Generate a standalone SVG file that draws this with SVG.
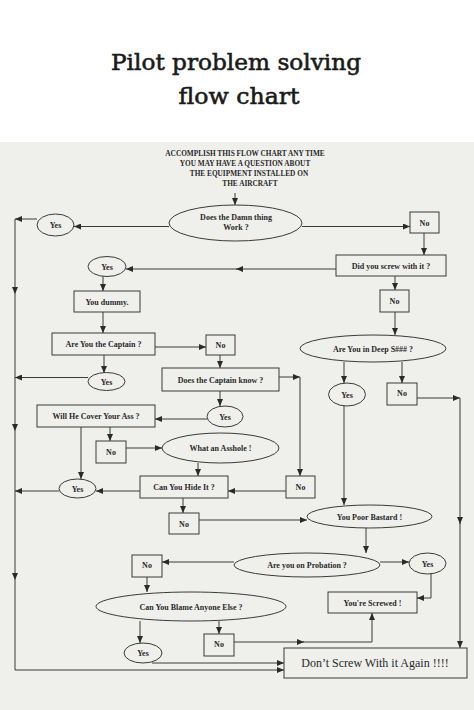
<svg xmlns="http://www.w3.org/2000/svg" width="474" height="710" viewBox="0 0 474 710">
<defs>
<marker id="a" markerWidth="8" markerHeight="6" refX="7" refY="3" orient="auto" markerUnits="userSpaceOnUse"><path d="M0,0 L7,3 L0,6 z" fill="#2a2a2a"/></marker>
<style>
.n rect,.n ellipse{fill:#efefec;stroke:#3a3a3a;stroke-width:1}
.n text,.h{font-family:"Liberation Serif","Times New Roman",serif;font-weight:bold;font-size:8px;fill:#2a2a2a;text-anchor:middle}
.h{font-size:7.3px}
.c path{fill:none;stroke:#3a3a3a;stroke-width:1;marker-end:url(#a)}
.title{font-family:"DejaVu Serif",serif;font-size:23px;fill:#1a1a1a;stroke:#1a1a1a;stroke-width:0.6;text-anchor:middle}
</style>
</defs>
<rect width="474" height="710" fill="#ffffff"/>
<rect x="0" y="142" width="474" height="568" fill="#efefec"/>
<text class="title" x="236" y="70" textLength="250" lengthAdjust="spacingAndGlyphs">Pilot problem solving</text>
<text class="title" x="239" y="104" textLength="121" lengthAdjust="spacingAndGlyphs">flow chart</text>

<g id="header">
<text class="h" x="245" y="156">ACCOMPLISH THIS FLOW CHART ANY TIME</text>
<text class="h" x="245" y="166">YOU MAY HAVE A QUESTION ABOUT</text>
<text class="h" x="249" y="176">THE EQUIPMENT INSTALLED ON</text>
<text class="h" x="250" y="186">THE AIRCRAFT</text>
</g>

<g class="c" id="connectors">
<path d="M235,193 V205"/>
<path d="M169,226.5 H74"/>
<path d="M37,219 H15"/>
<path d="M15,219 V294"/>
<path d="M15,294 V431"/>
<path d="M15,431 V580"/>
<path d="M15,580 V670 H284"/>
<path d="M302,226.5 H410"/>
<path d="M424,233 V255"/>
<path d="M336,269 H236"/>
<path d="M237,269 H126"/>
<path d="M103,276 V291"/>
<path d="M103,312 V333"/>
<path d="M395,276 V290"/>
<path d="M395,312 V335"/>
<path d="M155,347 H206"/>
<path d="M104,355 V373"/>
<path d="M88,377.5 H15"/>
<path d="M220,355 V368"/>
<path d="M279,377 H300"/>
<path d="M300,377 V476"/>
<path d="M220,391 V406"/>
<path d="M207,419 H155"/>
<path d="M81,427 V479"/>
<path d="M110,427 V441"/>
<path d="M126,448 H162"/>
<path d="M198,463 V476"/>
<path d="M286,491 H228"/>
<path d="M140,491 H96"/>
<path d="M59,491 H15"/>
<path d="M183,498 V513"/>
<path d="M199,520 H307"/>
<path d="M344,362 V383"/>
<path d="M344,406 V505"/>
<path d="M402,362 V383"/>
<path d="M417,398 H460"/>
<path d="M460,398 V524"/>
<path d="M460,523 V648"/>
<path d="M366,528 V553"/>
<path d="M234,562 H162"/>
<path d="M380,562 H409"/>
<path d="M431,574 V598 H417"/>
<path d="M147,577 V592"/>
<path d="M140,621 V643"/>
<path d="M219,621 V634"/>
<path d="M234,642 H304"/>
<path d="M303,642 H372 V613"/>
<path d="M152,663 H284"/>
</g>

<g class="n" id="damn"><ellipse cx="235.5" cy="223" rx="66.5" ry="18"/><text x="236" y="219.5">Does the Damn thing</text><text x="236" y="230">Work ?</text></g>
<g class="n" id="yes1"><ellipse cx="55.5" cy="225" rx="18.5" ry="11"/><text x="55.5" y="228">Yes</text></g>
<g class="n" id="no1"><rect x="410" y="212" width="29" height="21"/><text x="424.5" y="225.5">No</text></g>
<g class="n" id="screw"><rect x="336" y="255" width="110" height="21"/><text x="391" y="268.5">Did you screw with it ?</text></g>
<g class="n" id="yes2"><ellipse cx="107" cy="266.5" rx="19" ry="10"/><text x="107" y="269.5">Yes</text></g>
<g class="n" id="dummy"><rect x="74" y="291" width="66" height="21"/><text x="107" y="304.5">You dummy.</text></g>
<g class="n" id="no2"><rect x="380" y="290" width="29" height="22"/><text x="394.5" y="304">No</text></g>
<g class="n" id="captain"><rect x="52" y="333" width="103" height="22"/><text x="103.5" y="347">Are You the Captain ?</text></g>
<g class="n" id="no3"><rect x="206" y="335" width="29" height="20"/><text x="220.5" y="348">No</text></g>
<g class="n" id="yes3"><ellipse cx="106.5" cy="381.5" rx="18.5" ry="9"/><text x="106.5" y="384.5">Yes</text></g>
<g class="n" id="know"><rect x="162" y="368" width="117" height="23"/><text x="220.5" y="382.5">Does the Captain know ?</text></g>
<g class="n" id="yes4"><ellipse cx="225" cy="416.5" rx="18" ry="10.5"/><text x="225" y="419.5">Yes</text></g>
<g class="n" id="cover"><rect x="37" y="405" width="118" height="22"/><text x="96" y="419">Will He Cover Your Ass ?</text></g>
<g class="n" id="deep"><ellipse cx="373" cy="348.5" rx="73" ry="13.5"/><text x="373" y="351.5">Are You in Deep S###  ?</text></g>
<g class="n" id="yes5"><ellipse cx="347" cy="394.5" rx="18.5" ry="11.5"/><text x="347" y="397.5">Yes</text></g>
<g class="n" id="no4"><rect x="387" y="383" width="30" height="22"/><text x="402" y="396">No</text></g>
<g class="n" id="no5"><rect x="96" y="441" width="30" height="22"/><text x="111" y="455">No</text></g>
<g class="n" id="asshole"><ellipse cx="220.5" cy="448" rx="58.5" ry="15"/><text x="220.5" y="451">What an Asshole !</text></g>
<g class="n" id="hide"><rect x="140" y="476" width="88" height="22"/><text x="184" y="490">Can You Hide It ?</text></g>
<g class="n" id="no6"><rect x="286" y="476" width="29" height="22"/><text x="300.5" y="490">No</text></g>
<g class="n" id="yes6"><ellipse cx="77.5" cy="488.5" rx="18.5" ry="9.5"/><text x="77.5" y="491.5">Yes</text></g>
<g class="n" id="no7"><rect x="169" y="513" width="30" height="21"/><text x="184" y="526.5">No</text></g>
<g class="n" id="bastard"><ellipse cx="369.5" cy="516.5" rx="62.5" ry="11.5"/><text x="369.5" y="519.5">You Poor Bastard !</text></g>
<g class="n" id="probation"><ellipse cx="307" cy="565" rx="73" ry="12"/><text x="307" y="568">Are you on Probation ?</text></g>
<g class="n" id="no8"><rect x="132" y="555" width="30" height="22"/><text x="147" y="568">No</text></g>
<g class="n" id="yes7"><ellipse cx="427.5" cy="563.5" rx="18.5" ry="10.5"/><text x="427.5" y="566.5">Yes</text></g>
<g class="n" id="screwed"><rect x="328" y="592" width="89" height="21"/><text x="372.5" y="605.5">You're Screwed !</text></g>
<g class="n" id="blame"><ellipse cx="191" cy="606.5" rx="95" ry="14.5"/><text x="191" y="609.5">Can You Blame Anyone  Else ?</text></g>
<g class="n" id="yes8"><ellipse cx="143" cy="653" rx="19" ry="10"/><text x="143" y="656">Yes</text></g>
<g class="n" id="no9"><rect x="204" y="634" width="30" height="22"/><text x="219" y="647">No</text></g>
<g class="n" id="again"><rect x="284" y="648" width="183" height="30"/><text x="375" y="667" style="font-size:12px;font-weight:normal">Don’t Screw With it Again !!!!</text></g>
</svg>
